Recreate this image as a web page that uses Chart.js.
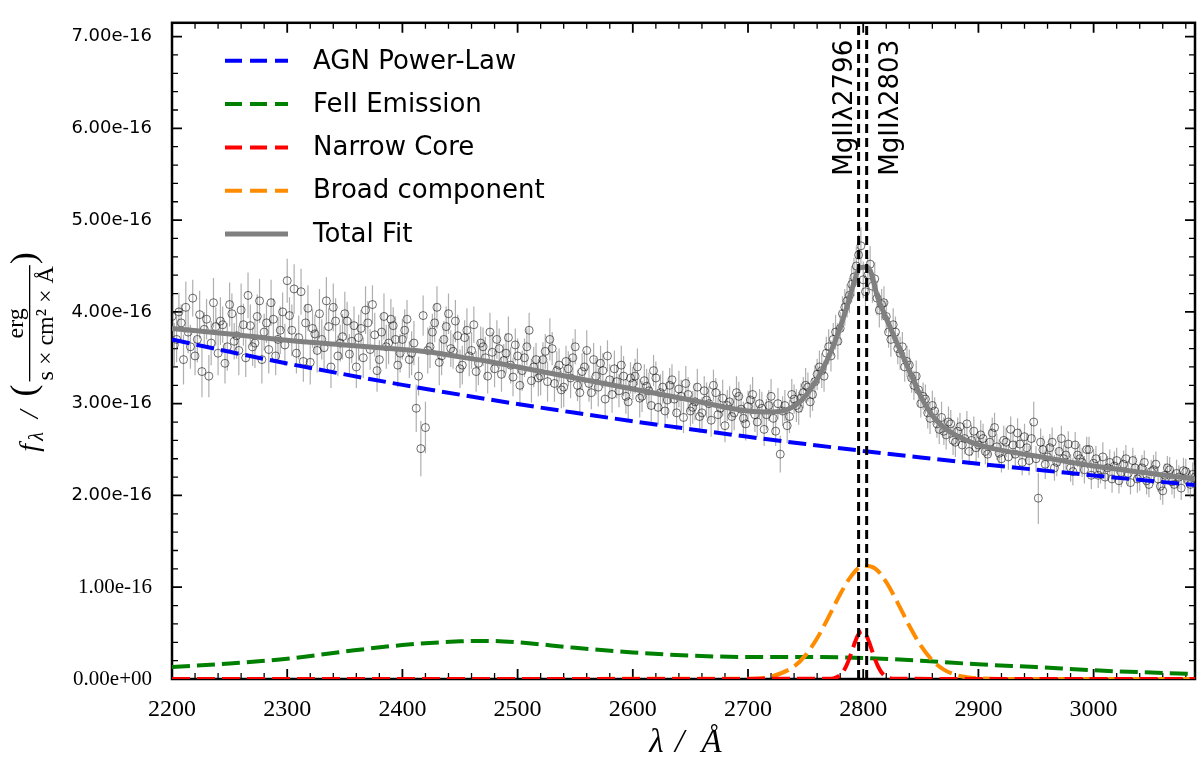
<!DOCTYPE html>
<html>
<head>
<meta charset="utf-8">
<script src="https://cdn.jsdelivr.net/npm/chart.js@4.4.0/dist/chart.umd.min.js"></script>
<style>
  body { margin: 0; background: #fff; }
  #wrap { width: 1200px; height: 760px; }
</style>
</head>
<body>
<div id="wrap"><canvas id="spectrum" width="1200" height="760"></canvas></div>
<script>
// flux values are in units of 1e-16 erg/s/cm2/A
const waveStep = 4;

// observed spectrum, pixels at 2200, 2204, 2208 ...
const waveStartA = 2200;
const fluxObsA = [
  3.95, 3.70, 3.88, 4.05, 3.62, 3.52, 3.97, 3.81, 3.30, 4.10,
  3.55, 3.86, 3.62, 3.98, 3.74, 4.02, 3.50, 3.85, 3.66, 4.12,
  3.78, 3.59, 3.92, 3.70, 4.00, 4.34, 3.80, 3.55, 4.22, 3.88,
  3.45, 3.76, 3.98, 3.61, 3.84, 4.05, 3.52, 3.73, 3.90, 3.68,
  3.40, 3.82, 4.02, 3.59, 3.75, 3.48, 3.95, 3.66, 3.85, 3.42,
  3.70, 3.92, 3.55, 2.95, 2.51, 2.74, 3.62, 3.88, 3.45, 3.70,
  3.98, 3.57, 3.74, 3.42, 3.80, 3.58, 3.35, 3.66, 3.50, 3.78,
  3.38, 3.60, 3.47, 3.72, 3.29, 3.52, 3.36, 3.62, 3.25, 3.48,
  3.30, 3.57, 3.70, 3.22, 3.42, 3.18, 3.38, 3.50, 3.20, 3.35,
  3.58, 3.12, 3.30, 3.44, 3.05, 3.26, 3.38, 3.14, 3.30, 3.02,
  3.22, 3.40, 3.08, 3.19, 2.98, 3.28, 3.12, 2.92, 3.20, 3.05,
  3.16, 2.85, 3.10, 2.96, 3.18, 2.90, 3.04, 2.82, 3.12, 2.95,
  2.76, 3.02, 2.90, 3.08, 2.84, 2.97, 3.10, 2.80, 2.95, 2.88,
  3.08, 2.70, 2.45, 2.98, 2.86, 3.05, 2.95, 3.12, 3.18, 3.10,
  3.32, 3.36, 3.55, 3.52, 3.78, 3.82, 4.05, 4.18, 4.38, 4.62,
  4.35, 4.40, 4.28, 4.15, 4.08, 3.95, 3.70, 3.78, 3.55, 3.40,
  3.42, 3.20, 3.15, 3.08, 2.90, 2.98, 2.78, 2.85, 2.66, 2.78,
  2.58, 2.75, 2.62, 2.48, 2.70, 2.55, 2.62, 2.45, 2.68, 2.53,
  2.40, 2.58, 2.72, 2.45, 2.56, 2.64, 2.38, 2.80, 1.97, 2.50,
  2.42, 2.58, 2.36, 2.62, 2.44, 2.30, 2.55, 2.40, 2.28, 2.50,
  2.35, 2.22, 2.42, 2.30, 2.18, 2.38, 2.25, 2.40, 2.14, 2.30,
  2.20, 2.36, 2.12, 2.28, 2.18, 2.05, 2.30, 2.15, 2.24, 2.08,
  2.26, 2.12, 2.20
];
const fluxErrA = [
  0.22, 0.25, 0.20, 0.28, 0.24, 0.21, 0.26, 0.19, 0.23, 0.27,
  0.24, 0.20, 0.26, 0.22, 0.25, 0.29, 0.21, 0.23, 0.27, 0.24,
  0.20, 0.26, 0.23, 0.25, 0.21, 0.24, 0.28, 0.22, 0.25, 0.20,
  0.24, 0.21, 0.27, 0.23, 0.20, 0.26, 0.22, 0.25, 0.21, 0.24,
  0.23, 0.20, 0.26, 0.22, 0.24, 0.21, 0.25, 0.23, 0.20, 0.24,
  0.22, 0.21, 0.24, 0.26, 0.30, 0.28, 0.23, 0.21, 0.25, 0.20,
  0.22, 0.19, 0.23, 0.21, 0.24, 0.20, 0.22, 0.18, 0.23, 0.21,
  0.20, 0.22, 0.18, 0.23, 0.21, 0.19, 0.22, 0.20, 0.24, 0.18,
  0.21, 0.19, 0.23, 0.20, 0.18, 0.22, 0.19, 0.21, 0.17, 0.20,
  0.22, 0.18, 0.20, 0.19, 0.21, 0.17, 0.20, 0.18, 0.22, 0.19,
  0.18, 0.20, 0.17, 0.19, 0.21, 0.18, 0.20, 0.17, 0.19, 0.18,
  0.20, 0.17, 0.19, 0.18, 0.20, 0.17, 0.19, 0.18, 0.16, 0.19,
  0.18, 0.17, 0.19, 0.16, 0.18, 0.17, 0.19, 0.16, 0.18, 0.17,
  0.19, 0.16, 0.20, 0.17, 0.18, 0.16, 0.18, 0.17, 0.16, 0.18,
  0.17, 0.19, 0.18, 0.17, 0.19, 0.18, 0.20, 0.19, 0.21, 0.22,
  0.20, 0.19, 0.18, 0.19, 0.17, 0.18, 0.19, 0.17, 0.18, 0.16,
  0.17, 0.16, 0.18, 0.15, 0.17, 0.16, 0.15, 0.17, 0.16, 0.15,
  0.16, 0.15, 0.17, 0.15, 0.16, 0.14, 0.16, 0.15, 0.17, 0.14,
  0.15, 0.16, 0.14, 0.15, 0.17, 0.14, 0.16, 0.22, 0.28, 0.15,
  0.14, 0.16, 0.15, 0.14, 0.16, 0.15, 0.14, 0.16, 0.15, 0.14,
  0.15, 0.14, 0.16, 0.13, 0.15, 0.14, 0.16, 0.15, 0.13, 0.14,
  0.15, 0.13, 0.14, 0.16, 0.14, 0.15, 0.13, 0.14, 0.15, 0.13,
  0.14, 0.15, 0.13
];

// the in-between pixels at 2202, 2206, 2210 ...
const waveStartB = 2202;
const fluxObsB = [
  3.64, 4.00, 3.48, 3.78, 4.15, 3.70, 3.35, 3.92, 3.66, 3.84,
  3.90, 3.44, 4.08, 3.68, 3.58, 3.86, 4.18, 3.62, 3.95, 3.48,
  3.88, 4.10, 3.52, 3.80, 3.64, 3.96, 4.25, 3.72, 3.46, 4.04,
  3.82, 3.58, 3.70, 4.12, 3.40, 3.90, 3.66, 3.98, 3.54, 3.85,
  3.72, 3.50, 3.88, 4.08, 3.36, 3.78, 3.62, 3.92, 3.70, 3.55,
  3.80, 3.48, 3.66, 3.30, 3.96, 3.58, 3.78, 4.05, 3.52, 3.84,
  3.60, 3.90, 3.38, 3.72, 3.52, 3.86, 3.44, 3.62, 3.30, 3.56,
  3.70, 3.32, 3.55, 3.42, 3.64, 3.20, 3.50, 3.80, 3.40, 3.28,
  3.48, 3.24, 3.60, 3.36, 3.15, 3.46, 3.28, 3.62, 3.12, 3.40,
  3.22, 3.48, 3.18, 3.36, 3.52, 3.10, 3.24, 3.42, 3.08, 3.28,
  3.30, 3.06, 3.25, 3.14, 3.36, 2.96, 3.18, 3.04, 3.26, 2.90,
  3.08, 3.22, 2.92, 3.02, 2.86, 3.14, 3.00, 3.20, 2.88, 3.06,
  2.98, 2.86, 3.12, 2.94, 2.78, 3.04, 2.88, 3.00, 2.72, 2.98,
  2.84, 3.00, 2.92, 2.76, 3.10, 2.98, 3.06, 3.20, 3.02, 3.24,
  3.40, 3.30, 3.62, 3.70, 3.68, 3.98, 4.12, 4.30, 4.50, 4.72,
  4.22, 4.52, 4.36, 4.02, 4.10, 3.78, 3.86, 3.60, 3.62, 3.46,
  3.28, 3.30, 3.00, 3.05, 2.84, 2.92, 2.72, 2.70, 2.80, 2.60,
  2.70, 2.55, 2.78, 2.60, 2.52, 2.66, 2.48, 2.58, 2.74, 2.46,
  2.60, 2.42, 2.55, 2.68, 2.36, 2.52, 2.62, 2.40, 2.58, 2.34,
  2.52, 2.30, 2.48, 2.40, 2.56, 2.26, 2.44, 2.36, 2.50, 2.22,
  2.40, 2.28, 2.20, 2.36, 2.32, 2.16, 2.34, 2.24, 2.38, 2.18,
  2.30, 2.16, 2.26, 2.34, 2.10, 2.22, 2.28, 2.12, 2.20, 2.27,
  2.16, 2.23
];
const fluxErrB = [
  0.24, 0.21, 0.27, 0.23, 0.20, 0.25, 0.28, 0.22, 0.24, 0.21,
  0.26, 0.22, 0.24, 0.20, 0.27, 0.23, 0.25, 0.21, 0.24, 0.26,
  0.22, 0.25, 0.21, 0.26, 0.23, 0.20, 0.27, 0.24, 0.22, 0.25,
  0.21, 0.24, 0.22, 0.26, 0.23, 0.25, 0.20, 0.24, 0.22, 0.21,
  0.25, 0.22, 0.24, 0.21, 0.23, 0.20, 0.24, 0.22, 0.25, 0.21,
  0.23, 0.20, 0.24, 0.21, 0.22, 0.25, 0.20, 0.23, 0.21, 0.22,
  0.20, 0.23, 0.21, 0.19, 0.22, 0.20, 0.24, 0.21, 0.19, 0.22,
  0.21, 0.19, 0.22, 0.20, 0.18, 0.23, 0.21, 0.19, 0.22, 0.20,
  0.19, 0.22, 0.18, 0.21, 0.20, 0.17, 0.22, 0.19, 0.21, 0.18,
  0.20, 0.18, 0.21, 0.19, 0.17, 0.20, 0.18, 0.21, 0.19, 0.17,
  0.19, 0.21, 0.18, 0.20, 0.17, 0.19, 0.18, 0.20, 0.17, 0.19,
  0.18, 0.19, 0.17, 0.20, 0.18, 0.16, 0.19, 0.17, 0.18, 0.20,
  0.17, 0.19, 0.18, 0.16, 0.18, 0.17, 0.19, 0.16, 0.18, 0.17,
  0.18, 0.17, 0.16, 0.19, 0.17, 0.18, 0.16, 0.19, 0.17, 0.18,
  0.18, 0.17, 0.19, 0.18, 0.20, 0.19, 0.18, 0.20, 0.21, 0.20,
  0.19, 0.20, 0.18, 0.19, 0.18, 0.17, 0.18, 0.17, 0.16, 0.17,
  0.16, 0.17, 0.15, 0.16, 0.17, 0.15, 0.16, 0.15, 0.17, 0.16,
  0.15, 0.16, 0.14, 0.17, 0.15, 0.16, 0.14, 0.15, 0.16, 0.15,
  0.16, 0.14, 0.15, 0.16, 0.14, 0.15, 0.17, 0.14, 0.15, 0.16,
  0.15, 0.14, 0.16, 0.15, 0.14, 0.15, 0.13, 0.16, 0.14, 0.15,
  0.14, 0.15, 0.13, 0.14, 0.16, 0.14, 0.15, 0.13, 0.14, 0.15,
  0.14, 0.15, 0.13, 0.14, 0.15, 0.13, 0.14, 0.15, 0.13, 0.14,
  0.14, 0.13
];

// model components
const powerLawWave = [2200, 2250, 2300, 2350, 2400, 2450, 2500, 2550, 2600, 2650,
                      2700, 2750, 2800, 2850, 2900, 2950, 3000, 3050, 3088];
const powerLawFlux = [3.70, 3.565, 3.438, 3.319, 3.205, 3.098, 2.996, 2.900, 2.809, 2.722,
                      2.639, 2.560, 2.485, 2.414, 2.345, 2.280, 2.218, 2.158, 2.114];

const feWave = [2200, 2250, 2300, 2350, 2400, 2450, 2475, 2500, 2550, 2600,
                2650, 2700, 2750, 2800, 2850, 2900, 2950, 3000, 3050, 3088];
const feFlux = [0.13, 0.17, 0.22, 0.30, 0.37, 0.41, 0.415, 0.40, 0.34, 0.29,
                0.255, 0.24, 0.24, 0.23, 0.20, 0.16, 0.13, 0.095, 0.07, 0.055];

const narrowWave = [2200, 2771, 2775, 2779, 2781, 2783, 2785, 2787, 2789, 2791, 2793, 2795, 2797,
                    2799, 2801, 2803, 2805, 2807, 2809, 2811, 2813, 2815, 2817, 2819, 2823, 2827, 3088];
const narrowFlux = [0, 0.002, 0.010, 0.033, 0.055, 0.088, 0.134, 0.192, 0.26, 0.334, 0.405, 0.466, 0.506,
                    0.52, 0.506, 0.466, 0.405, 0.334, 0.26, 0.192, 0.134, 0.088, 0.055, 0.033, 0.010, 0.002, 0];

const broadWave = [2200, 2700, 2720, 2740, 2750, 2760, 2770, 2780, 2790, 2800, 2810,
                   2820, 2830, 2840, 2850, 2860, 2870, 2880, 2890, 2900, 2920, 3088];
const broadFlux = [0, 0.003, 0.027, 0.137, 0.26, 0.444, 0.677, 0.924, 1.129, 1.234, 1.207,
                   1.056, 0.827, 0.58, 0.364, 0.204, 0.102, 0.046, 0.018, 0.007, 0.001, 0];

const fitWave = [2200, 2250, 2300, 2350, 2400, 2425, 2450, 2475, 2500, 2550, 2600, 2650, 2700,
                 2720, 2735, 2745, 2755, 2765, 2775, 2785, 2792, 2797, 2803, 2807, 2812, 2820,
                 2830, 2840, 2850, 2860, 2870, 2880, 2900, 2925, 2950, 3000, 3050, 3088];
const fitFlux = [3.82, 3.76, 3.69, 3.64, 3.59, 3.56, 3.51, 3.46, 3.40, 3.28, 3.16, 3.04, 2.92,
                 2.91, 2.94, 3.02, 3.17, 3.38, 3.66, 4.02, 4.32, 4.48, 4.49, 4.42, 4.18, 3.93,
                 3.64, 3.36, 3.08, 2.87, 2.74, 2.66, 2.55, 2.48, 2.43, 2.32, 2.24, 2.18];

const lineWaves = [2796, 2803];
const lineNames = ["MgIIλ2796", "MgIIλ2803"];

const xTickValues = [2200, 2300, 2400, 2500, 2600, 2700, 2800, 2900, 3000];
const yTickValues = [0, 1, 2, 3, 4, 5, 6, 7];
const xMin = 2200, xMax = 3088;
const yMin = 0, yMax = 7.15;

const pts = (xs, ys) => xs.map((x, i) => ({ x: x, y: ys[i] }));

const waveA = fluxObsA.map((_, i) => waveStartA + i * waveStep);
const waveB = fluxObsB.map((_, i) => waveStartB + i * waveStep);
const obsPoints = pts(waveA, fluxObsA).concat(pts(waveB, fluxObsB));

const errSegments = [];
function addErrors(waves, flux, err) {
    flux.forEach((f, i) => {
        errSegments.push({ x: waves[i], y: f - err[i] });
        errSegments.push({ x: waves[i], y: f + err[i] });
        errSegments.push({ x: waves[i], y: null });
    });
}
addErrors(waveA, fluxObsA, fluxErrA);
addErrors(waveB, fluxObsB, fluxErrB);

const DASH = [18, 7];

// frame with inward ticks on all four sides
const frameTicks = {
    id: "frameTicks",
    beforeDatasetsDraw(chart) {
        const { ctx, chartArea: a, scales: { x, y } } = chart;
        ctx.save();
        ctx.strokeStyle = "#000";
        for (let k = 0; k * 20 + xMin <= xMax; k++) {
            const px = x.getPixelForValue(xMin + k * 20);
            const major = k % 5 === 0;
            const len = major ? 10 : 6;
            ctx.lineWidth = major ? 1.8 : 1.3;
            ctx.beginPath();
            ctx.moveTo(px, a.bottom); ctx.lineTo(px, a.bottom - len);
            ctx.moveTo(px, a.top); ctx.lineTo(px, a.top + len);
            ctx.stroke();
        }
        for (let k = 0; k * 0.2 <= yMax; k++) {
            const py = y.getPixelForValue(k * 0.2);
            const major = k % 5 === 0;
            const len = major ? 10 : 6;
            ctx.lineWidth = major ? 1.8 : 1.3;
            ctx.beginPath();
            ctx.moveTo(a.left, py); ctx.lineTo(a.left + len, py);
            ctx.moveTo(a.right, py); ctx.lineTo(a.right - len, py);
            ctx.stroke();
        }
        ctx.lineWidth = 2.5;
        ctx.strokeRect(a.left, a.top, a.right - a.left, a.bottom - a.top);
        ctx.restore();
    }
};

// rotated labels next to the MgII lines
const lineLabels = {
    id: "lineLabels",
    afterDatasetsDraw(chart) {
        const { ctx, chartArea: a, scales: { x } } = chart;
        ctx.save();
        ctx.fillStyle = "#000";
        ctx.font = "26px 'DejaVu Sans'";
        ctx.textAlign = "right";
        ctx.textBaseline = "alphabetic";
        lineWaves.forEach((w, i) => {
            const px = x.getPixelForValue(w);
            ctx.save();
            ctx.translate(i === 0 ? px - 7 : px + 31, a.top + 17);
            ctx.rotate(-Math.PI / 2);
            ctx.fillText(lineNames[i], 0, 0);
            ctx.restore();
        });
        ctx.restore();
    }
};

// legend inside the plot, upper left
const legendBox = {
    id: "legendBox",
    afterDraw(chart) {
        const { ctx, chartArea: a } = chart;
        const items = chart.data.datasets.filter(d => d.inLegend)
            .sort((p, q) => p.legendRank - q.legendRank);
        ctx.save();
        ctx.font = "26px 'DejaVu Sans'";
        ctx.textBaseline = "middle";
        ctx.fillStyle = "#000";
        items.forEach((d, i) => {
            const yy = a.top + 38 + i * 43.3;
            ctx.strokeStyle = d.borderColor;
            ctx.lineWidth = d.borderWidth;
            ctx.setLineDash(d.borderDash ? [17, 8] : []);
            ctx.beginPath();
            ctx.moveTo(a.left + 53, yy);
            ctx.lineTo(a.left + 116, yy);
            ctx.stroke();
            ctx.fillText(d.label, a.left + 141, yy + 1);
        });
        ctx.restore();
    }
};

// axis titles (the y one has a fraction)
const axisTitles = {
    id: "axisTitles",
    afterDraw(chart) {
        const { ctx, chartArea: a } = chart;
        const mid = (a.left + a.right) / 2;
        ctx.save();
        ctx.fillStyle = "#000";
        ctx.textAlign = "center";
        ctx.textBaseline = "alphabetic";
        ctx.font = "italic 33px 'Liberation Serif'";
        ctx.fillText("λ", mid - 27, 752);
        ctx.fillText("/", mid - 4, 752);
        ctx.fillText("Å", mid + 28, 752);

        ctx.translate(38, (a.top + a.bottom) / 2);
        ctx.rotate(-Math.PI / 2);
        ctx.textAlign = "left";
        const big = "italic 28px 'Liberation Serif'";
        const sub = "italic 20px 'Liberation Serif'";
        const paren = "36px 'Liberation Serif'";
        const frac = "24px 'Liberation Serif'";
        const w = (f, t) => { ctx.font = f; return ctx.measureText(t).width; };
        const num = "erg", den = "s × cm² × Å";
        const fracW = Math.max(w(frac, num), w(frac, den)) + 4;
        const parts = [
            { t: "f", f: big, dy: 0, wd: w(big, "f") + 3 },
            { t: "λ", f: sub, dy: 5, wd: w(sub, "λ") },
            { t: "  /  ", f: big, dy: 0, wd: w(big, "  /  ") },
            { t: "(", f: paren, dy: -3, wd: w(paren, "(") + 2 },
            { frac: true, wd: fracW },
            { t: ")", f: paren, dy: -3, wd: w(paren, ")") + 2 }
        ];
        const total = parts.reduce((s, p) => s + p.wd, 0);
        let cx = -total / 2;
        parts.forEach(p => {
            if (p.frac) {
                ctx.font = frac;
                ctx.textAlign = "center";
                ctx.fillText(num, cx + p.wd / 2, -15);
                ctx.fillText(den, cx + p.wd / 2, 15);
                ctx.fillRect(cx + 1, -9, p.wd - 2, 1.3);
                ctx.textAlign = "left";
            } else {
                ctx.font = p.f;
                ctx.fillText(p.t, cx, p.dy);
            }
            cx += p.wd;
        });
        ctx.restore();
    }
};

const ctx = document.getElementById("spectrum").getContext("2d");

new Chart(ctx, {
    type: "line",
    data: {
        datasets: [
            // MgII line markers
            ...lineWaves.map(wv => ({
                label: "line " + wv,
                data: [{ x: wv, y: yMin }, { x: wv, y: yMax }],
                borderColor: "#000",
                borderWidth: 3,
                borderDash: [9, 5],
                pointRadius: 0,
                order: 0
            })),
            {
                label: "Narrow Core",
                data: pts(narrowWave, narrowFlux),
                borderColor: "#ff0000",
                borderWidth: 4,
                borderDash: DASH,
                pointRadius: 0,
                cubicInterpolationMode: "monotone",
                inLegend: true, legendRank: 2,
                order: 1
            },
            {
                label: "Broad component",
                data: pts(broadWave, broadFlux),
                borderColor: "#ff8c00",
                borderWidth: 4,
                borderDash: DASH,
                pointRadius: 0,
                cubicInterpolationMode: "monotone",
                inLegend: true, legendRank: 3,
                order: 2
            },
            {
                label: "FeII Emission",
                data: pts(feWave, feFlux),
                borderColor: "#008000",
                borderWidth: 4,
                borderDash: DASH,
                pointRadius: 0,
                cubicInterpolationMode: "monotone",
                inLegend: true, legendRank: 1,
                order: 3
            },
            {
                label: "AGN Power-Law",
                data: pts(powerLawWave, powerLawFlux),
                borderColor: "#0000ff",
                borderWidth: 4,
                borderDash: DASH,
                pointRadius: 0,
                cubicInterpolationMode: "monotone",
                inLegend: true, legendRank: 0,
                order: 4
            },
            {
                label: "Total Fit",
                data: pts(fitWave, fitFlux),
                borderColor: "#808080",
                borderWidth: 5,
                pointRadius: 0,
                cubicInterpolationMode: "monotone",
                inLegend: true, legendRank: 4,
                order: 5
            },
            {
                label: "data",
                data: obsPoints,
                showLine: false,
                pointRadius: 4,
                pointBorderWidth: 1,
                pointBackgroundColor: "rgba(0,0,0,0)",
                pointBorderColor: "rgba(15,15,15,0.6)",
                order: 6
            },
            {
                label: "errors",
                data: errSegments,
                borderColor: "rgba(110,110,110,0.55)",
                borderWidth: 1.2,
                pointRadius: 0,
                spanGaps: false,
                order: 7
            }
        ]
    },
    options: {
        responsive: false,
        animation: false,
        layout: { padding: { left: 0, top: 10, right: 1, bottom: 0 } },
        plugins: {
            legend: { display: false },
            tooltip: { enabled: false }
        },
        scales: {
            x: {
                type: "linear",
                min: xMin,
                max: xMax,
                grid: { display: false },
                border: { display: false },
                afterBuildTicks: s => { s.ticks = xTickValues.map(v => ({ value: v })); },
                afterFit: s => { s.height = 81; },
                ticks: {
                    autoSkip: false,
                    maxRotation: 0,
                    padding: 8,
                    color: "#000",
                    font: { family: "'Liberation Serif'", size: 24 },
                    callback: v => String(v)
                }
            },
            y: {
                type: "linear",
                min: yMin,
                max: yMax,
                grid: { display: false },
                border: { display: false },
                afterBuildTicks: s => { s.ticks = yTickValues.map(v => ({ value: v })); },
                afterFit: s => { s.width = 172; },
                ticks: {
                    padding: 12,
                    color: "#000",
                    font: c => (c.tick && c.tick.value <= 1)
                        ? { family: "'Liberation Serif'", size: 21 }
                        : { family: "'DejaVu Sans'", size: 18 },
                    callback: v => v === 0 ? "0.00e+00" : v.toFixed(2) + "e-16"
                }
            }
        }
    },
    plugins: [frameTicks, lineLabels, legendBox, axisTitles]
});
</script>
</body>
</html>
